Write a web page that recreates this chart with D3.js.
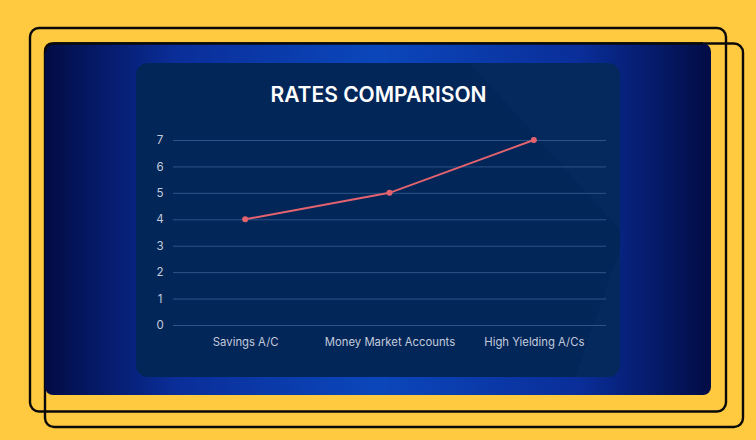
<!DOCTYPE html>
<html><head><meta charset="utf-8">
<script src="https://cdn.jsdelivr.net/npm/d3@7"></script>
<style>html,body{margin:0;padding:0;background:#FFC940;}svg{display:block;}</style>
</head><body>
<svg id="c" width="756" height="440"></svg>
<script>
const categories = ["Savings A/C", "Money Market Accounts", "High Yielding A/Cs"];
const rates = [4, 5, 7];
const yTicks = [0, 1, 2, 3, 4, 5, 6, 7];
const title = "RATES COMPARISON";

const svg = d3.select("#c");
const defs = svg.append("defs");
const g1 = defs.append("linearGradient").attr("id", "bg").attr("x1", "0").attr("x2", "1").attr("y1", "0").attr("y2", "0");
g1.append("stop").attr("offset", "0").attr("stop-color", "#020c45");
g1.append("stop").attr("offset", "0.2").attr("stop-color", "#0a2e9a");
g1.append("stop").attr("offset", "0.5").attr("stop-color", "#0b47bb");
g1.append("stop").attr("offset", "0.8").attr("stop-color", "#0a2e9a");
g1.append("stop").attr("offset", "1").attr("stop-color", "#020c45");

svg.append("rect").attr("width", 756).attr("height", 440).attr("fill", "#FFC940");
// back outline
svg.append("rect").attr("x", 45).attr("y", 43.5).attr("width", 698).attr("height", 383.5).attr("rx", 9)
  .attr("fill", "none").attr("stroke", "#0a0a0a").attr("stroke-width", 2.4);
// front outline
svg.append("rect").attr("x", 30).attr("y", 28).attr("width", 696).attr("height", 383.5).attr("rx", 9)
  .attr("fill", "none").attr("stroke", "#0a0a0a").attr("stroke-width", 2.4);
// blue panel
svg.append("rect").attr("x", 45).attr("y", 43.5).attr("width", 666).attr("height", 351.5).attr("rx", 8)
  .attr("fill", "url(#bg)").attr("stroke", "none");
svg.append("path").attr("d", "M45,52 Q45,43.5 53,43.5 L703,43.5").attr("fill", "none").attr("stroke", "#0a0a0a").attr("stroke-width", 2.4);

// inner panel
svg.append("rect").attr("x", 136).attr("y", 63).attr("width", 484).attr("height", 314).attr("rx", 12)
  .attr("fill", "#032659");
// subtle diagonal shading
svg.append("path").attr("d", "M470,63 L608,63 Q620,63 620,75 L620,230 Z").attr("fill", "#0a3468").attr("opacity", 0.25);
svg.append("path").attr("d", "M620,250 L620,365 Q620,377 608,377 L575,377 Z").attr("fill", "#0a3468").attr("opacity", 0.25);

svg.append("text").attr("x", 378.5).attr("y", 102).attr("text-anchor", "middle")
  .attr("font-family", "Inter, 'Open Sans', sans-serif").attr("font-weight", 600).attr("font-size", 21)
  .attr("fill", "#ffffff").text(title);

const x = d3.scalePoint().domain(categories).range([173, 606]).padding(0.5);
const y = d3.scaleLinear().domain([0, 7]).range([325, 140]);

const gridG = svg.append("g").attr("transform", "translate(173,0)")
  .call(d3.axisLeft(y).tickValues(yTicks).tickSize(-433).tickFormat(d3.format("d")));
gridG.select(".domain").remove();
gridG.selectAll(".tick line").attr("stroke", "#2c5487").attr("stroke-width", 1);
gridG.selectAll(".tick text").attr("x", -9).attr("fill", "#c3cbdb").attr("font-size", 11.5)
  .attr("font-family", "Inter, sans-serif").attr("text-anchor", "middle").attr("dx", -4);

const xG = svg.append("g").attr("transform", "translate(0,325)")
  .call(d3.axisBottom(x).tickSize(0));
xG.select(".domain").remove();
xG.selectAll(".tick text").attr("y", 13).attr("fill", "#c3cbdb").attr("font-size", 11.3)
  .attr("font-family", "Inter, sans-serif");

const line = d3.line().x((d, i) => x(categories[i])).y(d => y(d));
svg.append("path").datum(rates).attr("d", line).attr("fill", "none").attr("stroke", "#e5636e").attr("stroke-width", 2);
svg.selectAll("circle.pt").data(rates).join("circle").attr("class", "pt")
  .attr("cx", (d, i) => x(categories[i])).attr("cy", d => y(d)).attr("r", 3).attr("fill", "#e5636e");
</script>
</body></html>
